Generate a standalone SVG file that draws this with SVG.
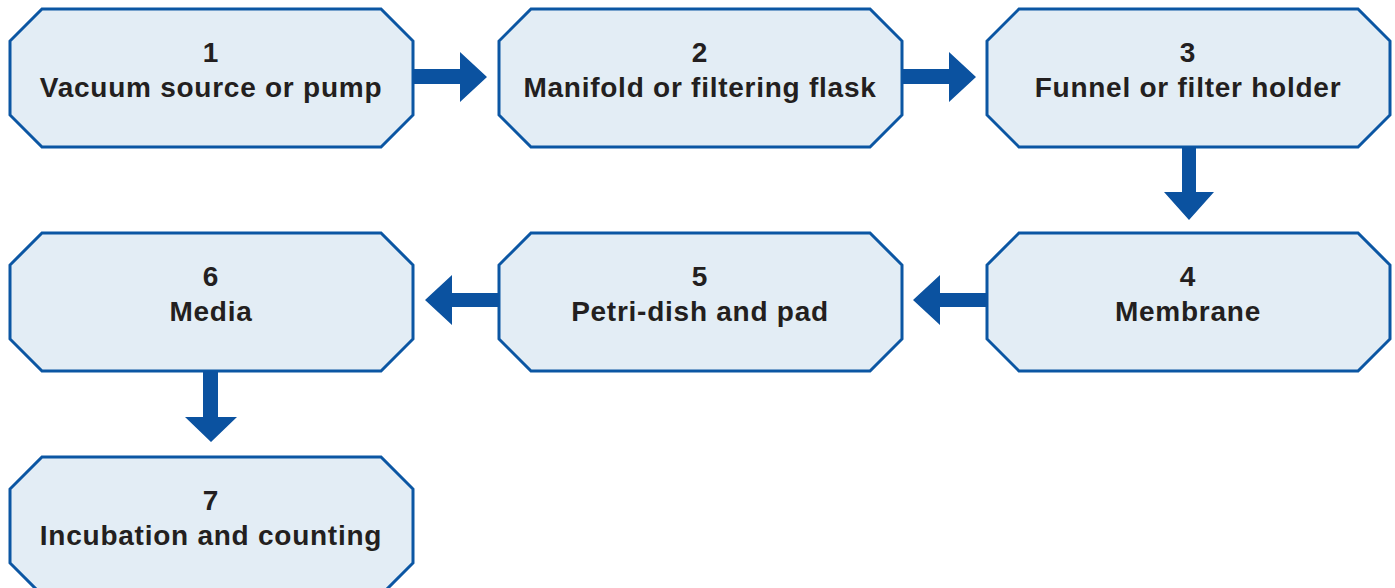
<svg xmlns="http://www.w3.org/2000/svg" width="1395" height="588" viewBox="0 0 1395 588">
<defs>
<style>
.box{fill:#e3edf5;stroke:#0b56a3;stroke-width:3;stroke-linejoin:miter}
.t{font-family:"Liberation Sans",Arial,sans-serif;font-weight:bold;font-size:28px;fill:#231f20;text-anchor:middle;letter-spacing:0.75px}
.arr{fill:#0b52a0}
</style>
<polygon id="oct" points="32,0 371,0 403,32 403,106 371,138 32,138 0,106 0,32"/>
</defs>
<rect width="1395" height="588" fill="#ffffff"/>
<g id="node1" transform="translate(10,9)"><use href="#oct" class="box"/><text class="t" x="201" y="53">1</text><text class="t" x="201" y="88">Vacuum source or pump</text></g>
<g id="node2" transform="translate(499,9)"><use href="#oct" class="box"/><text class="t" x="201" y="53">2</text><text class="t" x="201" y="88">Manifold or filtering flask</text></g>
<g id="node3" transform="translate(987,9)"><use href="#oct" class="box"/><text class="t" x="201" y="53">3</text><text class="t" x="201" y="88">Funnel or filter holder</text></g>
<g id="node4" transform="translate(987,233)"><use href="#oct" class="box"/><text class="t" x="201" y="53">4</text><text class="t" x="201" y="88">Membrane</text></g>
<g id="node5" transform="translate(499,233)"><use href="#oct" class="box"/><text class="t" x="201" y="53">5</text><text class="t" x="201" y="88">Petri-dish and pad</text></g>
<g id="node6" transform="translate(10,233)"><use href="#oct" class="box"/><text class="t" x="201" y="53">6</text><text class="t" x="201" y="88">Media</text></g>
<g id="node7" transform="translate(10,457)"><use href="#oct" class="box"/><text class="t" x="201" y="53">7</text><text class="t" x="201" y="88">Incubation and counting</text></g>
<g id="connectors">
<polygon class="arr" points="413,69 460,69 460,52 487,77 460,102 460,84 413,84"/>
<polygon class="arr" points="902,69 949,69 949,52 976,77 949,102 949,84 902,84"/>
<polygon class="arr" points="1182,147 1196,147 1196,192 1214,192 1189,220 1164,192 1182,192"/>
<polygon class="arr" points="988,293 940,293 940,275 913,300 940,325 940,307 988,307"/>
<polygon class="arr" points="499,293 452,293 452,275 425,300 452,325 452,307 499,307"/>
<polygon class="arr" points="203,371 218,371 218,417 237,417 211,442 185,417 203,417"/>
</g>
</svg>
